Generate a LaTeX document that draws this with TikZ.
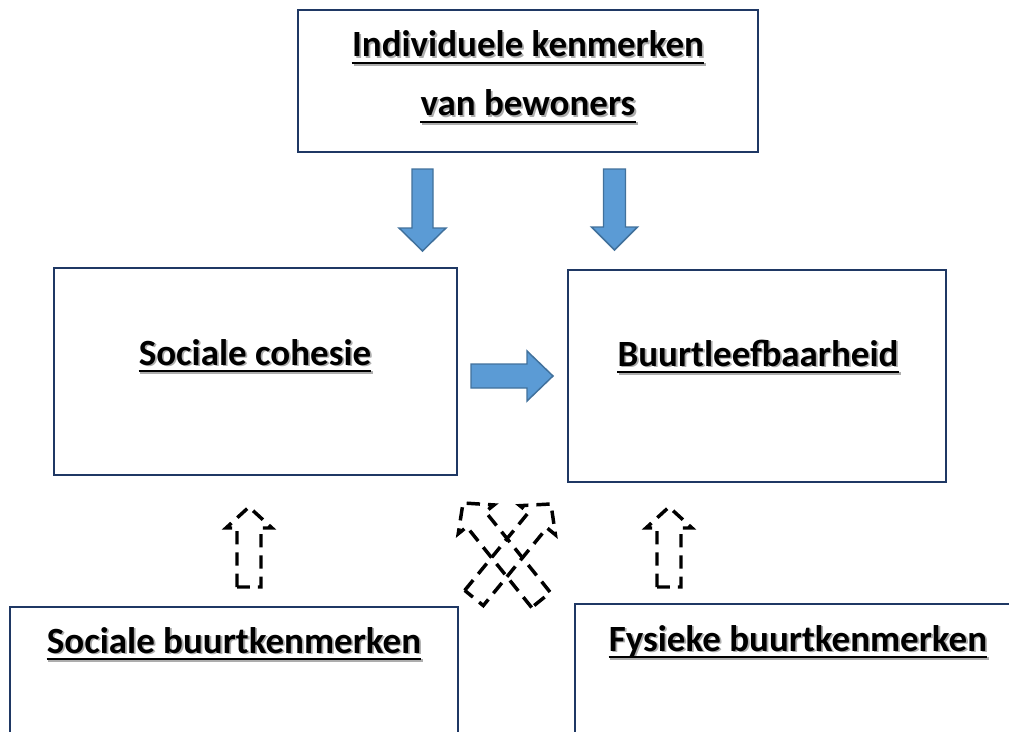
\documentclass[tikz,border=0pt]{standalone}
\usepackage{fontspec}
\setmainfont{Carlito}
\definecolor{navy}{HTML}{1F3864}
\definecolor{arrowblue}{HTML}{5B9BD5}
\definecolor{arrowedge}{HTML}{41719C}
\tikzset{
  boxnode/.style={draw=navy, line width=1.6pt, rectangle, inner sep=0pt},
  lbl/.style={inner sep=0pt, anchor=base, font=\fontsize{27.75pt}{33pt}\selectfont\bfseries},
  bluearrow/.style={fill=arrowblue, draw=arrowedge, line width=1.1pt, line join=miter},
  dasharrow/.style={draw=black, line width=2.6pt, dash pattern=on 10pt off 6pt, line join=miter},
}
% style, x, y, angle, length, shaft half width, head half width, head length
\newcommand\blockarr[8]{%
  \begin{scope}[shift={(#2,#3)},rotate=#4]
    \path[#1] (0,-#6) -- ({#5-#8},-#6) -- ({#5-#8},-#7) -- (#5,0) -- ({#5-#8},#7) -- ({#5-#8},#6) -- (0,#6) -- cycle;
  \end{scope}}
% name, x, y (baseline centre), text
\newcommand\ulabel[4]{%
  \node[lbl, text=black!32] (#1s) at ({#2+1.8},{#3+1.8}) {#4};
  \draw[black!32, line width=2.2pt] ([yshift=-4.5pt]#1s.base west) -- ([yshift=-4.5pt]#1s.base east);
  \node[lbl] (#1) at (#2,#3) {#4};
  \draw[black, line width=2.2pt] ([yshift=-4.5pt]#1.base west) -- ([yshift=-4.5pt]#1.base east);
}
\begin{document}
\begin{tikzpicture}[x=0.75pt,y=-0.75pt]
\useasboundingbox (0,0) rectangle (1009,731);
\clip (0,0) rectangle (1009,731);
\fill[white] (0,0) rectangle (1009,731);

% boxes
\node[boxnode, minimum width=345pt, minimum height=106.5pt] (top) at (528,81) {};
\node[boxnode, minimum width=302.25pt, minimum height=155.25pt] (sc) at (255.5,371.5) {};
\node[boxnode, minimum width=283.5pt, minimum height=159pt] (bl) at (757,376) {};
\node[boxnode, minimum width=336pt, minimum height=114.75pt] (sbk) at (234,683.5) {};
\node[boxnode, minimum width=341.25pt, minimum height=117pt] (fbk) at (802.5,682) {};

% labels
\ulabel{t1}{528}{57}{Individuele kenmerken}
\ulabel{t2}{528}{116}{van bewoners}
\ulabel{t3}{255}{365}{Sociale cohesie}
\ulabel{t4}{758}{366}{Buurtleefbaarheid}
\ulabel{t5}{234}{653}{Sociale buurtkenmerken}
\ulabel{t6}{798}{651}{Fysieke buurtkenmerken}

% blue block arrows
\blockarr{bluearrow}{422.5}{169}{-90}{82}{10.5}{23.5}{23}
\blockarr{bluearrow}{614.5}{169}{-90}{81}{11}{23}{23}
\blockarr{bluearrow}{471}{376}{0}{82}{12}{25}{26}

% dashed block arrows
\blockarr{dasharrow}{249}{587}{90}{80}{12}{23}{21}
\blockarr{dasharrow}{669}{587}{90}{80}{12}{23}{21}
\blockarr{dasharrow}{474}{598}{50.7}{121.5}{12}{23}{21}
\blockarr{dasharrow}{541}{600}{128.8}{124.5}{12}{23}{21}
\end{tikzpicture}
\end{document}
